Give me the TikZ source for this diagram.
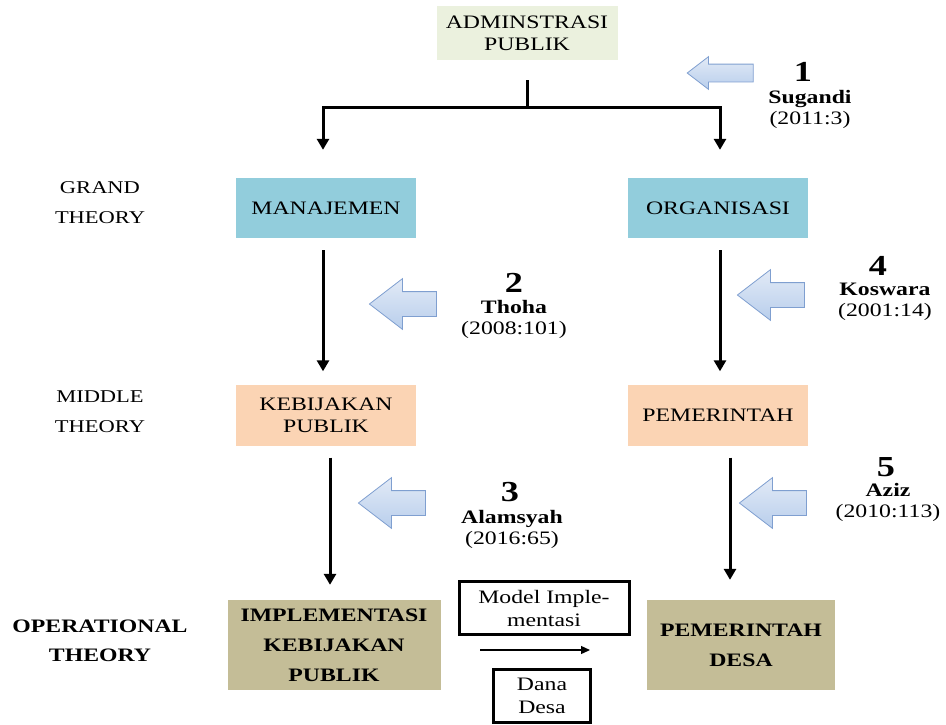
\documentclass[tikz,border=0pt]{standalone}
\usepackage{fontspec}
\setmainfont{Liberation Serif}[FakeStretch=1.25]
\usepackage{tikz}
\usetikzlibrary{shapes.arrows, arrows.meta, positioning}
\definecolor{admgreen}{HTML}{EBF1DE}
\definecolor{aquabox}{HTML}{92CDDC}
\definecolor{peachbox}{HTML}{FBD4B4}
\definecolor{tanbox}{HTML}{C4BD97}
\definecolor{refline}{HTML}{7F9FD0}
\definecolor{reftop}{HTML}{E2EAF6}
\definecolor{refbottom}{HTML}{B8CEEC}
\tikzstyle{theory} = [rectangle, minimum width=180pt, minimum height=60pt, inner sep=0pt, text centered, align=center, font=\fontsize{19}{22}\selectfont]
\tikzstyle{opbox} = [rectangle, minimum height=90pt, inner sep=0pt, align=center, fill=tanbox, font=\fontsize{19}{30}\selectfont\bfseries]
\tikzstyle{notebox} = [rectangle, draw=black, line width=3pt, inner sep=0pt, align=center, font=\fontsize{19}{23}\selectfont]
\tikzstyle{level} = [align=center, inner sep=0pt, font=\fontsize{18}{30}\selectfont]
\tikzstyle{refarrow} = [single arrow, shape border rotate=180, single arrow tip angle=75, draw=refline, line width=0.8pt, top color=reftop, bottom color=refbottom, inner sep=12pt, single arrow head extend=13pt, minimum height=67pt]
\tikzstyle{refnum} = [inner sep=0pt, font=\fontsize{29}{30}\selectfont\bfseries]
\tikzstyle{refname} = [inner sep=0pt, align=center, font=\fontsize{19}{21}\selectfont]
\tikzstyle{arrow} = [line width=3pt, -{Triangle[length=11pt,width=12pt]}]
\tikzstyle{thinarrow} = [line width=1.3pt, -{Triangle[length=9pt,width=8pt]}]

\begin{document}
\begin{tikzpicture}[x=1pt, y=-1pt]
    \useasboundingbox (0,0) rectangle (946,724);

    % boxes
    \node (adm) [theory, fill=admgreen, minimum width=181pt, minimum height=54pt] at (527,33) {ADMINSTRASI\\PUBLIK};
    \node (man) [theory, fill=aquabox] at (326,208) {MANAJEMEN};
    \node (org) [theory, fill=aquabox] at (718,208) {ORGANISASI};
    \node (keb) [theory, fill=peachbox, minimum height=61pt] at (326,415) {KEBIJAKAN\\PUBLIK};
    \node (pem) [theory, fill=peachbox, minimum height=61pt] at (718,415) {PEMERINTAH};
    \node (impl) [opbox, minimum width=213pt] at (334,645) {IMPLEMENTASI\\KEBIJAKAN\\PUBLIK};
    \node (desa) [opbox, minimum width=188pt] at (741,645) {PEMERINTAH\\DESA};
    \node (model) [notebox, minimum width=170pt, minimum height=53pt] at (544,608) {Model Imple-\\mentasi};
    \node (dana) [notebox, minimum width=97pt, minimum height=53pt] at (542,696) {Dana\\Desa};

    % levels
    \node (grand) [level] at (100,203) {GRAND\\THEORY};
    \node (middle) [level] at (100,412) {MIDDLE\\THEORY};
    \node (oper) [level, font=\fontsize{19}{29}\selectfont\bfseries] at (100,641) {OPERATIONAL\\THEORY};

    % references
    \node (ref1) [refarrow, inner sep=8.5pt, single arrow head extend=7.5pt, minimum height=66pt] at (726,73) {};
    \node (num1) [refnum] at (803,72) {1};
    \node (auth1) [refname, below=8pt of num1, xshift=7pt] {\textbf{Sugandi}\\(2011:3)};

    \node (ref2) [refarrow] at (411,304) {};
    \node (num2) [refnum] at (514,283) {2};
    \node (auth2) [refname, below=7pt of num2] {\textbf{Thoha}\\(2008:101)};

    \node (ref3) [refarrow] at (400,503) {};
    \node (num3) [refnum] at (510,492) {3};
    \node (auth3) [refname, below=8pt of num3, xshift=2pt] {\textbf{Alamsyah}\\(2016:65)};

    \node (ref4) [refarrow] at (779,295) {};
    \node (num4) [refnum] at (878,266) {4};
    \node (auth4) [refname, below=7pt of num4, xshift=7pt] {\textbf{Koswara}\\(2001:14)};

    \node (ref5) [refarrow] at (781,503) {};
    \node (num5) [refnum] at (886,467) {5};
    \node (auth5) [refname, below=6pt of num5, xshift=2pt] {\textbf{Aziz}\\(2010:113)};

    % connectors
    \coordinate (fork) at (527,107);
    \draw [line width=3pt] ([yshift=-20pt]adm.south) -- (fork);
    \draw [arrow, shorten >=28pt] (fork) -| ([xshift=-3pt]man.north);
    \draw [arrow, shorten >=28pt] (fork) -| ([xshift=2pt]org.north);
    \draw [arrow, shorten <=12pt, shorten >=13pt] ([xshift=-3pt]man.south) -- ([xshift=-3pt]keb.north);
    \draw [arrow, shorten <=12pt, shorten >=13pt] ([xshift=2pt]org.south) -- ([xshift=2pt]pem.north);
    \draw [arrow, shorten <=12pt, shorten >=15pt] ([xshift=4pt]keb.south) -- ([xshift=4pt]keb.south |- impl.north);
    \draw [arrow, shorten <=12pt, shorten >=20pt] ([xshift=12pt]pem.south) -- ([xshift=12pt]pem.south |- desa.north);
    \draw [thinarrow] ([shift={(-64pt,-14pt)}]model.south) -- ([shift={(46pt,-14pt)}]model.south);
\end{tikzpicture}
\end{document}
